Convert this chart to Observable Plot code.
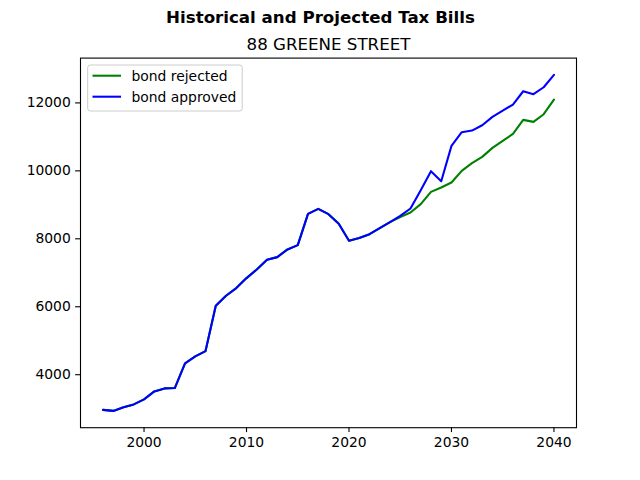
<!DOCTYPE html>
<html>
<head>
<meta charset="utf-8">
<script src="https://cdn.jsdelivr.net/npm/d3@7"></script>
<script src="https://cdn.jsdelivr.net/npm/@observablehq/plot@0.6"></script>
<style>
  html, body { margin: 0; padding: 0; background: #fff; }
  svg { display: block; }
</style>
</head>
<body>
<div id="chart"></div>
<script>
const suptitle = "Historical and Projected Tax Bills";
const title = "88 GREENE STREET";
const years = d3.range(1996, 2041);
const approved = [2965, 2935, 3040, 3127, 3274, 3509, 3597, 3608, 4333, 4538,
  4696, 6029, 6324, 6549, 6843, 7098, 7382, 7461, 7687, 7814,
  8735, 8882, 8725, 8441, 7941, 8025, 8137, 8314, 8490, 8676,
  8892, 9431, 9990, 9696, 10735, 11137, 11186, 11343, 11588, 11774,
  11950, 12343, 12255, 12461, 12824];
const rejected = [2965, 2935, 3040, 3127, 3274, 3509, 3597, 3608, 4333, 4538,
  4696, 6029, 6324, 6549, 6843, 7098, 7382, 7461, 7687, 7814,
  8735, 8882, 8725, 8441, 7941, 8025, 8137, 8314, 8490, 8637,
  8775, 9020, 9382, 9510, 9657, 10000, 10225, 10412, 10676, 10882,
  11088, 11500, 11441, 11667, 12098];
const seriesNames = ["bond rejected", "bond approved"];
const seriesColors = ["green", "blue"];
const xTicks = [2000, 2010, 2020, 2030, 2040];
const yTicks = [4000, 6000, 8000, 10000, 12000];

const rows = [];
[rejected, approved].forEach((vals, i) => {
  vals.forEach((v, j) => rows.push({year: years[j], value: v, series: seriesNames[i]}));
});

function pad(ext) { const r = ext[1] - ext[0]; return [ext[0] - 0.05 * r, ext[1] + 0.05 * r]; }
const xDom = pad(d3.extent(years));
const yDom = pad(d3.extent(rows, d => d.value));

const tick = 4.86;
const plot = Plot.plot({
  width: 640,
  height: 480,
  marginLeft: 80,
  marginRight: 64,
  marginTop: 57.6,
  marginBottom: 52.8,
  style: {fontFamily: "DejaVu Sans", fontSize: "13.89px", color: "black", background: "white"},
  x: {domain: xDom},
  y: {domain: yDom},
  color: {domain: seriesNames, range: seriesColors},
  marks: [
    Plot.line(rows, {x: "year", y: "value", stroke: "series", z: "series", strokeWidth: 2.08}),
    Plot.frame({stroke: "black", strokeWidth: 1.1}),
    Plot.axisX({ticks: xTicks, tickFormat: "d", tickSize: tick, tickPadding: 4.86, strokeWidth: 1.1, label: null}),
    Plot.axisY({ticks: yTicks, tickFormat: "d", tickSize: tick, tickPadding: 4.86, strokeWidth: 1.1, label: null}),
    Plot.text([title], {frameAnchor: "top", dy: -13.6, lineAnchor: "middle", text: d => d, fontSize: 16.67, fill: "black"}),
    Plot.text([suptitle], {frameAnchor: "top", dx: -8, dy: -40.6, lineAnchor: "middle", text: d => d, fontSize: 16.67, fontWeight: "bold", fill: "black"})
  ]
});
document.getElementById("chart").appendChild(plot);

// legend (matplotlib style, upper left)
const svg = d3.select(plot);
const lg = svg.append("g").attr("text-anchor", "start");
lg.append("rect").attr("x", 87.7).attr("y", 65).attr("width", 154.5).attr("height", 46)
  .attr("rx", 2.5).attr("fill", "white").attr("fill-opacity", 0.8).attr("stroke", "#cccccc").attr("stroke-width", 1);
[[seriesNames[0], seriesColors[0], 75.7], [seriesNames[1], seriesColors[1], 96.7]].forEach(([name, col, y]) => {
  lg.append("line").attr("x1", 92.5).attr("x2", 121).attr("y1", y).attr("y2", y)
    .attr("stroke", col).attr("stroke-width", 2.08);
  lg.append("text").attr("x", 131.5).attr("y", y).attr("dy", "0.35em").attr("text-anchor", "start")
    .attr("font-family", "DejaVu Sans").attr("font-size", "13.89px").attr("fill", "black").text(name);
});
</script>
</body>
</html>
